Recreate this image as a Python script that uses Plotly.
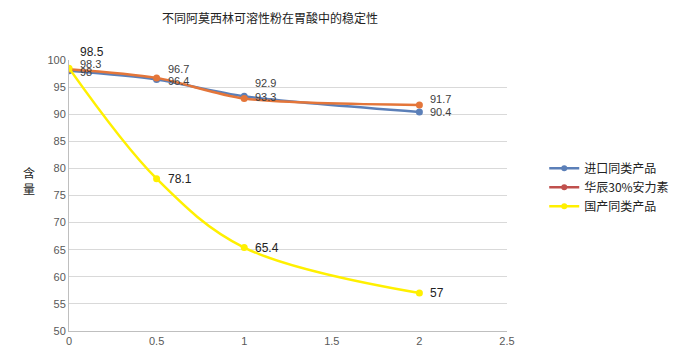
import plotly.graph_objects as go

x_vals = [0, 0.5, 1, 2]
import_vals = [98, 96.4, 93.3, 90.4]
huachen_vals = [98.3, 96.7, 92.9, 91.7]
domestic_vals = [98.5, 78.1, 65.4, 57]
names = ["进口同类产品", "华辰30%安力素", "国产同类产品"]
line_colors = ["#5B7FB8", "#E4763A", "#FFF000"]
legend_colors = ["#5B7FB8", "#C0504D", "#FFF000"]
title = "不同阿莫西林可溶性粉在胃酸中的稳定性"
y_title = "含<br>量"

# label vertical offsets (px) per point, as placed in the reference
import_lbl_dy = [-1, -1, -1, 0]
huachen_lbl_dy = [5, 9, 15, 6]
domestic_lbl_dy = [16, 0, 0, 0]

font_family = "Liberation Sans, Arial, Noto Sans CJK SC"

fig = go.Figure()
series = [
    (import_vals, line_colors[0], 0.8, import_lbl_dy, 11, "#404040"),
    (huachen_vals, line_colors[1], 0.8, huachen_lbl_dy, 11, "#404040"),
    (domestic_vals, line_colors[2], 1.0, domestic_lbl_dy, 12, "#222222"),
]
annotations = []
for vals, col, sm, dys, fs, fc in series:
    fig.add_trace(go.Scatter(
        x=x_vals, y=vals, mode="lines+markers",
        line=dict(color=col, width=2.5, shape="spline", smoothing=sm),
        marker=dict(size=7, color=col), showlegend=False))
    for xv, yv, dy in zip(x_vals, vals, dys):
        annotations.append(dict(
            x=xv, y=yv, xref="x", yref="y", text=str(yv), showarrow=False,
            xanchor="left", yanchor="middle", xshift=9, yshift=dy,
            font=dict(size=fs, color=fc, family=font_family)))

for n, c in zip(names, legend_colors):
    fig.add_trace(go.Scatter(
        x=[None], y=[None], mode="lines+markers", name=n,
        line=dict(color=c, width=2.5), marker=dict(size=6, color=c)))

annotations.append(dict(text=y_title, xref="paper", yref="paper",
                        x=(29 - 69) / 438, y=(331 - 180) / 271,
                        xanchor="center", yanchor="middle", showarrow=False,
                        font=dict(size=12, color="#222222", family="Noto Sans CJK SC")))

fig.update_layout(
    width=692, height=355,
    paper_bgcolor="white", plot_bgcolor="white",
    margin=dict(l=61, r=193, t=52, b=32),
    font=dict(family=font_family, size=11, color="#595959"),
    title=dict(text=title, x=262/692, xanchor="center", y=1 - 11/355, yanchor="middle",
               font=dict(size=12, color="#222222", family="Noto Sans CJK SC")),
    legend=dict(x=1.085, y=0.53, xanchor="left", yanchor="middle",
                font=dict(size=12, color="#222222", family="Noto Sans CJK SC"),
                tracegroupgap=0, itemwidth=30),
    xaxis=dict(range=[0, 2.5], dtick=0.5, showgrid=False, zeroline=False,
               showline=True, linecolor="#BFBFBF", linewidth=1,
               ticks="", tickfont=dict(size=11, color="#595959")),
    yaxis=dict(range=[50, 100], dtick=5, showgrid=True, gridcolor="#D9D9D9",
               zeroline=False, showline=True, linecolor="#BFBFBF", linewidth=1,
               ticks="", tickfont=dict(size=11, color="#595959")),
    annotations=annotations,
)

fig.write_html("out.html")
